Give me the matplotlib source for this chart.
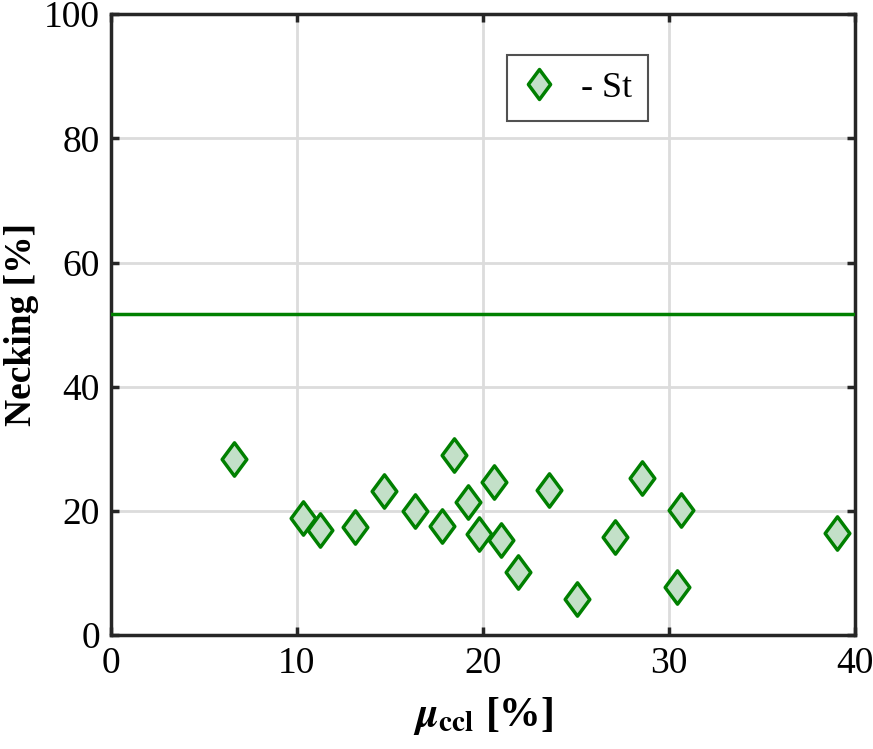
import matplotlib
matplotlib.use("Agg")
import matplotlib.pyplot as plt
from matplotlib.path import Path

mu_ccl = [6.63, 10.35, 11.25, 13.12, 14.68, 16.35, 17.8, 18.43, 19.19, 19.8,
          20.62, 20.96, 21.87, 23.57, 25.08, 27.1, 28.59, 30.42, 30.65, 39.05]
necking = [28.4, 18.8, 16.9, 17.4, 23.2, 20.0, 17.6, 29.0, 21.4, 16.3,
           24.7, 15.3, 10.1, 23.3, 5.85, 15.8, 25.3, 7.8, 20.2, 16.5]
mean_level = 51.8
x_ticks = [0, 10, 20, 30, 40]
y_ticks = [0, 20, 40, 60, 80, 100]
legend_label = "- St"

plt.rcParams['font.family'] = ['Liberation Serif', 'DejaVu Serif']
plt.rcParams['mathtext.fontset'] = 'stix'

fig = plt.figure(figsize=(8.73, 7.49), dpi=100)
ax = fig.add_axes([0.127, 0.152, 0.852, 0.829])

diamond = Path([(0, 1), (0.74, 0), (0, -1), (-0.74, 0), (0, 1)],
               [Path.MOVETO, Path.LINETO, Path.LINETO, Path.LINETO, Path.CLOSEPOLY])

green = '#008000'
ax.axhline(mean_level, color=green, lw=2.5, zorder=3)
ax.plot(mu_ccl, necking, linestyle='none', marker=diamond, ms=24,
        mfc='#c3e0c8', mec=green, mew=2.5, zorder=4, label=legend_label)

ax.set_xlim(0, 40)
ax.set_ylim(0, 100)
ax.set_xticks(x_ticks)
ax.set_yticks(y_ticks)
ax.grid(True, color='#dcdcdc', lw=2)
ax.set_axisbelow(True)
for s in ax.spines.values():
    s.set_color('#262626')
    s.set_linewidth(2.5)
ax.tick_params(direction='in', length=6, width=2.5, colors='#262626',
               labelsize=27, top=True, right=True, pad=8)
for lab in ax.get_xticklabels() + ax.get_yticklabels():
    lab.set_color('black')

ax.set_xlabel(r'$\mathbfit{\mu}_{\mathbf{ccl}}$ [%]', fontsize=30, fontweight='bold', labelpad=10)
ax.set_ylabel('Necking [%]', fontsize=27, fontweight='bold')
ax.yaxis.set_label_coords(-0.097, 0.5)

leg = ax.legend(loc='upper left', bbox_to_anchor=(0.532, 0.934), fontsize=26,
                frameon=True, fancybox=False, edgecolor='#262626', borderaxespad=0,
                handlelength=0.9, handletextpad=0.7, borderpad=0.45, markerscale=0.9)
leg.get_frame().set_linewidth(1.5)

fig.savefig('out.png', dpi=100)
